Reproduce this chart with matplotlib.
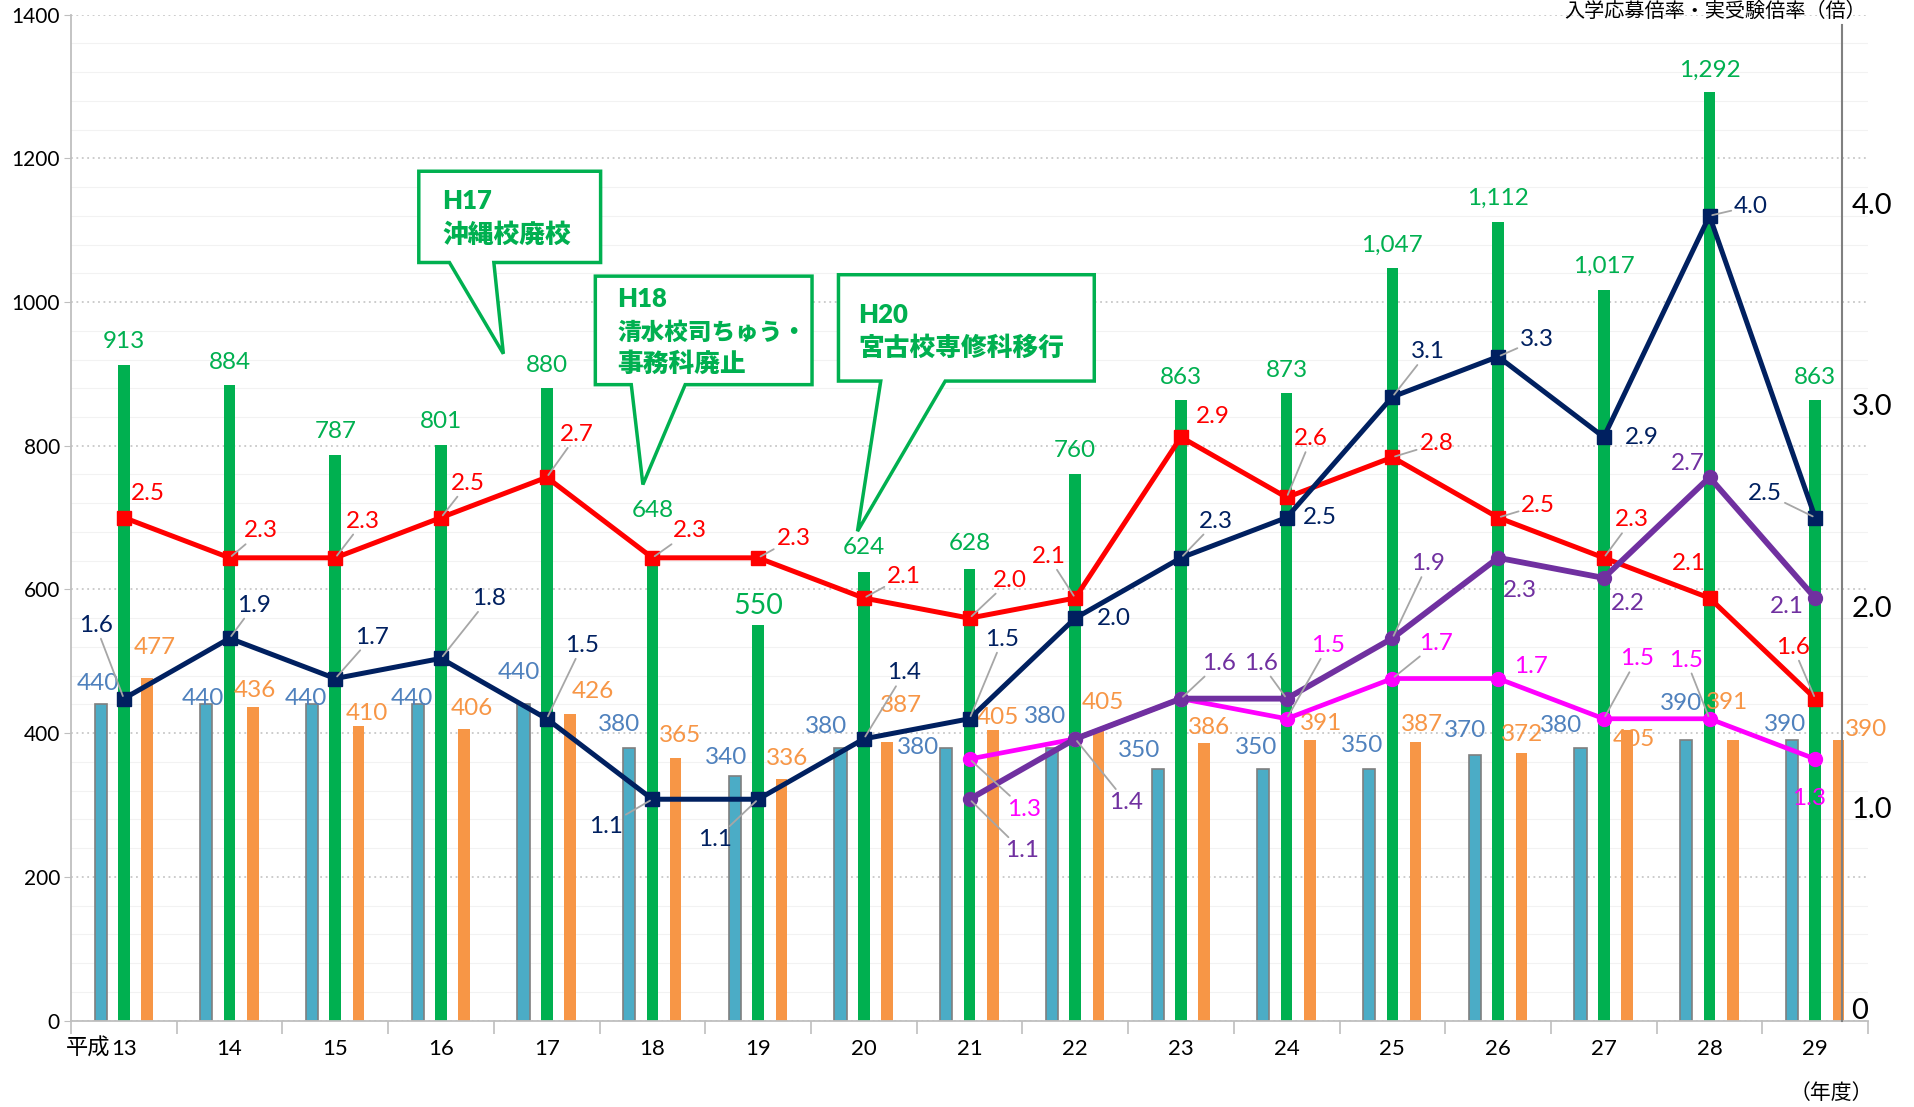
import numpy as np
import matplotlib
matplotlib.use('Agg')
import matplotlib.pyplot as plt
import matplotlib.transforms as mtransforms
from matplotlib.patches import Polygon

plt.rcParams['font.family'] = ['Lato', 'Noto Sans CJK JP', 'DejaVu Sans']

# Heisei fiscal years
years = ['13', '14', '15', '16', '17', '18', '19', '20', '21',
         '22', '23', '24', '25', '26', '27', '28', '29']

# bar series (left axis, persons)
capacity = [440, 440, 440, 440, 440, 380, 340, 380, 380, 380, 350, 350, 350, 370, 380, 390, 390]
applicants = [913, 884, 787, 801, 880, 648, 550, 624, 628, 760, 863, 873, 1047, 1112, 1017, 1292, 863]
examinees = [477, 436, 410, 406, 426, 365, 336, 387, 405, 405, 386, 391, 387, 372, 405, 391, 390]

# rate series (right axis, times)
rate_red = [2.5, 2.3, 2.3, 2.5, 2.7, 2.3, 2.3, 2.1, 2.0, 2.1, 2.9, 2.6, 2.8, 2.5, 2.3, 2.1, 1.6]
rate_navy = [1.6, 1.9, 1.7, 1.8, 1.5, 1.1, 1.1, 1.4, 1.5, 2.0, 2.3, 2.5, 3.1, 3.3, 2.9, 4.0, 2.5]
rate_purple = [np.nan] * 8 + [1.1, 1.4, 1.6, 1.6, 1.9, 2.3, 2.2, 2.7, 2.1]
rate_magenta = [np.nan] * 8 + [1.3, 1.4, 1.6, 1.5, 1.7, 1.7, 1.5, 1.5, 1.3]

# label offsets (measured on a 1568px wide copy, dx right / dy up)
off_red = [(20, 20), (26, 22), (23, 30), (22, 28), (25, 35), (31, 22), (29, 16), (33, 18), (33, 31),
           (-22, 34), (26, 17), (20, 48), (36, 11), (33, 10), (23, 31), (-17, 28), (-18, 42)]
off_navy = [(-23, 60), (20, 27), (30, 34), (39, 49), (29, 60), (-38, -22), (-35, -33), (33, 54), (27, 65),
            (32, 0), (29, 30), (27, 0), (29, 37), (32, 14), (31, 0), (34, 8), (-41, 20)]
off_purple = [None] * 8 + [(43, -42), (42, -52), (31, 29), (-21, 29), (29, 61), (18, -27), (20, -21),
                           (-18, 11), (-23, -7)]
off_magenta = [None] * 8 + [(45, -41), None, None, (34, 60), (36, 29), (27, 10), (27, 49), (-19, 48), (-5, -32)]
off_app = [19, 19, 19, 19, 19, 36, 16, 20, 21, 20, 19, 19, 19, 19, 19, 18, 19]
off_cap = [(-2, 17), (-3, 5), (-5, 5), (-5, 5), (-4, 26), (-8, 19), (-7, 15), (-12, 17), (-23, 0),
           (-6, 25), (-15, 15), (-6, 18), (-6, 19), (-8, 20), (-16, 18), (-4, 30), (-6, 13)]
off_exam = [(6, 25), (2, 14), (7, 10), (6, 17), (19, 19), (4, 19), (5, 17), (11, 30), (4, 10),
            (4, 22), (4, 13), (9, 13), (5, 15), (1, 15), (6, -8), (-5, 30), (23, 9)]
S = 1914 / 1568
LFS = 17.5

GREEN = '#00B050'
x = np.arange(len(years))

fig = plt.figure(figsize=(19.14, 11.07), dpi=100)
ax = fig.add_axes([0.0371, 0.0781, 0.9389, 0.9087])
ax2 = ax.twinx()

# bars
ax.bar(x - 0.22, capacity, 0.115, color='#4BACC6', edgecolor='#7F7F7F', linewidth=1.2, zorder=2)
ax.bar(x, applicants, 0.11, color=GREEN, zorder=2)
ax.bar(x + 0.22, examinees, 0.11, color='#F79646', zorder=2)

for i in range(len(x)):
    fs = 20.5 if applicants[i] == 550 else LFS
    ax.annotate(f'{applicants[i]:,}', xy=(x[i], applicants[i]), xytext=(0, off_app[i] * S),
                textcoords='offset pixels', ha='center', va='center', color=GREEN, fontsize=fs, zorder=3)
    dx, dy = off_cap[i]
    ax.annotate(str(capacity[i]), xy=(x[i] - 0.22, capacity[i]), xytext=(dx * S, dy * S),
                textcoords='offset pixels', ha='center', va='center', color='#4F81BD', fontsize=LFS, zorder=3)
    dx, dy = off_exam[i]
    ax.annotate(str(examinees[i]), xy=(x[i] + 0.22, examinees[i]), xytext=(dx * S, dy * S),
                textcoords='offset pixels', ha='center', va='center', color='#F79646', fontsize=LFS, zorder=3)

# lines
ax2.plot(x, rate_red, color='#FF0000', lw=3.6, marker='s', ms=10, zorder=3)
ax2.plot(x, rate_navy, color='#002060', lw=3.6, marker='s', ms=10, zorder=4)
ax2.plot(x, rate_magenta, color='#FF00FF', lw=3.4, marker='o', ms=10, zorder=5)
ax2.plot(x, rate_purple, color='#7030A0', lw=4.2, marker='o', ms=10, zorder=6)


def line_labels(vals, offs, color):
    for i, v in enumerate(vals):
        if offs[i] is None or np.isnan(v):
            continue
        dx, dy = offs[i]
        lead = np.hypot(dx, dy) > 33
        ax2.annotate(f'{v:.1f}', xy=(x[i], v), xytext=(dx * S, dy * S), textcoords='offset pixels',
                     ha='center', va='center', color=color, fontsize=LFS, zorder=7,
                     arrowprops=dict(arrowstyle='-', color='#A6A6A6', lw=1.3, shrinkA=0, shrinkB=2) if lead else None)


line_labels(rate_red, off_red, '#FF0000')
line_labels(rate_navy, off_navy, '#002060')
line_labels(rate_purple, off_purple, '#7030A0')
line_labels(rate_magenta, off_magenta, '#FF00FF')

# callouts
callouts = [
    (2.79, 4.51, 1055, 1182, 3.08, 3.50, (3.59, 928), 3.01, [('H17', 1140), ('沖縄校廃校', 1094)]),
    (4.46, 6.51, 885, 1036, 4.80, 5.31, (4.91, 746), 4.67,
     [('H18', 1004), ('清水校司ちゅう・', 958), ('事務科廃止', 914)]),
    (6.76, 9.18, 890, 1038, 7.16, 7.77, (6.94, 681), 6.95, [('H20', 982), ('宮古校専修科移行', 936)]),
]
for x0, x1, y0, y1, bl, br, tip, tx, lines in callouts:
    poly = Polygon([(x0, y1), (x1, y1), (x1, y0), (br, y0), tip, (bl, y0), (x0, y0)], closed=True,
                   facecolor='white', edgecolor=GREEN, lw=2.5, transform=ax.transData, zorder=8)
    ax2.add_patch(poly)
    for txt, ty in lines:
        fam = ['Lato'] if txt.startswith('H') else ['Noto Sans CJK JP']
        fs = 17 if len(txt) > 7 and txt.endswith('・') else 18.5
        ax2.text(tx, ty, txt, transform=ax.transData, color=GREEN, fontsize=fs, fontweight='heavy',
                 family=fam, ha='left', va='center', zorder=9)

# axes styling
ax.set_xlim(-0.5, 16.5)
ax.set_ylim(0, 1400)
ax2.set_ylim(0, 5)

ax.set_yticks(np.arange(0, 1401, 200))
ax.set_yticks(np.arange(0, 1401, 40), minor=True)
ax.yaxis.grid(True, which='minor', color='#F2F2F2', lw=0.8)
ax.yaxis.grid(True, which='major', color='#C8C8C8', lw=1.3, ls=(0, (1, 2)))
ax.set_axisbelow(True)
ax.tick_params(axis='y', which='major', labelsize=15, length=5, color='#BFBFBF', pad=3)
ax.tick_params(axis='y', which='minor', length=0)

ax.set_xticks(np.arange(-0.5, 17, 1))
ax.set_xticklabels([])
ax.set_xticks(x, minor=True)
ax.set_xticklabels(years, minor=True)
ax.tick_params(axis='x', which='major', length=9, color='#BFBFBF', width=1.2)
ax.tick_params(axis='x', which='minor', length=0, labelsize=16, pad=13)
ax.text(-0.13, -0.027, '平成', transform=mtransforms.blended_transform_factory(ax.transData, ax.transAxes),
        ha='right', va='center', fontsize=16)

for s in ['top', 'right']:
    ax.spines[s].set_visible(False)
for s in ['left', 'bottom']:
    ax.spines[s].set_color('#BFBFBF')
    ax.spines[s].set_linewidth(1.3)
for s in ['top', 'left', 'bottom']:
    ax2.spines[s].set_visible(False)
ax2.spines['right'].set_position(('data', 16.25))
ax2.spines['right'].set_color('#808080')
ax2.spines['right'].set_linewidth(1.5)
ax2.spines['right'].set_bounds(0, 4.95)

ax2.set_yticks([0, 1, 2, 3, 4])
ax2.set_yticklabels(['0', '1.0', '2.0', '3.0', '4.0'])
ax2.tick_params(axis='y', length=0, labelsize=21, pad=7)
shift = mtransforms.ScaledTranslation(0, 12 / 100, fig.dpi_scale_trans)
for lab in ax2.get_yticklabels():
    lab.set_transform(lab.get_transform() + shift)

fig.text(0.957, 0.0126, '（年度）', ha='center', va='center', fontsize=15)
fig.text(0.896, 0.999, '入学応募倍率・実受験倍率（倍）', ha='center', va='top', fontsize=14.5,
         family=['Noto Sans CJK JP'])

fig.savefig('out.png', dpi=100)
